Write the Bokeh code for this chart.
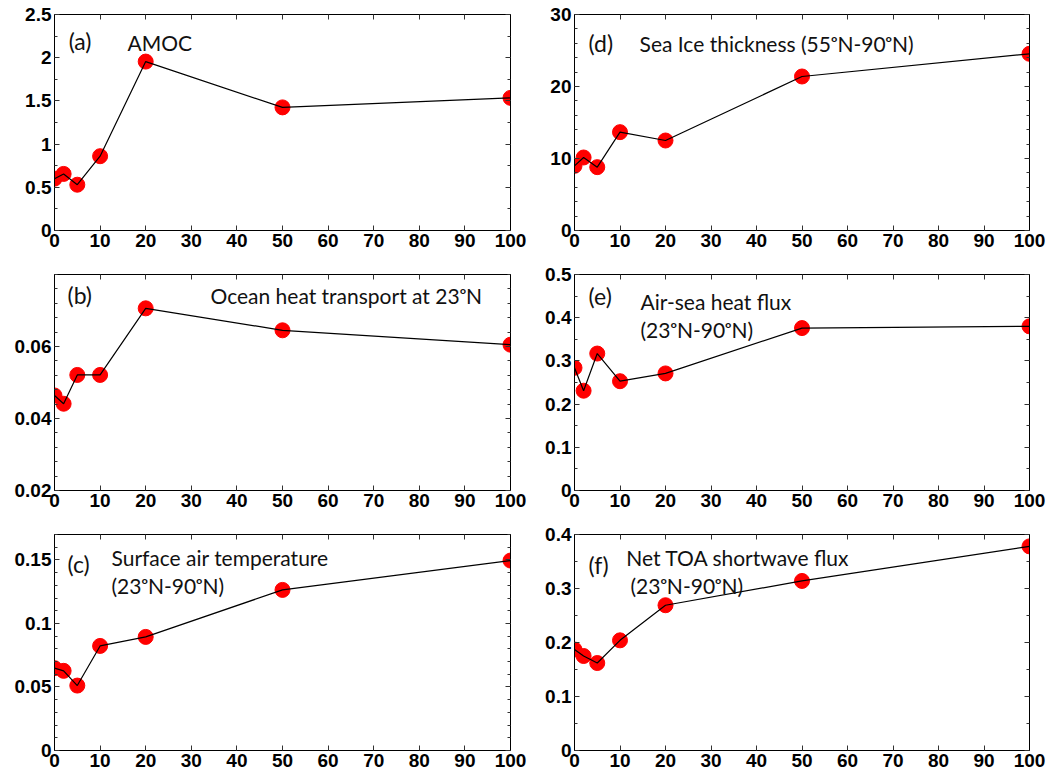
from bokeh.plotting import figure
from bokeh.layouts import gridplot
from bokeh.models import Range1d, LinearAxis, FixedTicker, Label
from bokeh.embed import file_html
from bokeh.resources import INLINE

# ---- data ----
x_vals = [0, 2, 5, 10, 20, 50, 100]
amoc = [0.60, 0.655, 0.53, 0.86, 1.955, 1.425, 1.535]
ocean_heat = [0.0464, 0.0441, 0.0521, 0.0521, 0.0706, 0.0645, 0.0605]
sat = [0.0648, 0.0627, 0.0511, 0.0823, 0.0894, 0.1264, 0.1495]
sea_ice = [8.98, 10.14, 8.8, 13.66, 12.5, 21.39, 24.54]
air_sea = [0.284, 0.231, 0.317, 0.253, 0.271, 0.376, 0.380]
toa_sw = [0.187, 0.175, 0.162, 0.204, 0.269, 0.314, 0.378]

x_ticks = [0, 10, 20, 30, 40, 50, 60, 70, 80, 90, 100]

TICK_FONT = "Liberation Sans"
TEXT_FONT = "Lato"
DEG = "\u1d52"


def make_panel(y, yr, yticks, nminor, letter, labels, bl, br, bt, bb, w, h):
    p = figure(width=w, height=h, output_backend="svg", toolbar_location=None,
               x_range=Range1d(0, 100), y_range=Range1d(*yr),
               min_border_left=bl, min_border_right=br,
               min_border_top=bt, min_border_bottom=bb,
               x_axis_type=None, y_axis_type=None)
    p.grid.visible = False
    p.outline_line_color = "black"
    p.outline_line_width = 1
    p.background_fill_color = "white"
    p.border_fill_color = "white"

    def style(ax, show):
        ax.axis_line_color = "black"
        ax.major_tick_in = 5
        ax.major_tick_out = 0
        ax.minor_tick_in = 3
        ax.minor_tick_out = 0
        ax.major_tick_line_color = "#333333"
        ax.minor_tick_line_color = "#333333"
        if show:
            ax.major_label_text_font = TICK_FONT
            ax.major_label_text_font_style = "bold"
            ax.major_label_text_font_size = "19px"
            ax.major_label_text_color = "black"
            ax.major_label_standoff = 3
        else:
            ax.major_label_text_font_size = "1px"
            ax.major_label_text_color = None
            ax.major_label_standoff = 0

    xt = FixedTicker(ticks=x_ticks, minor_ticks=[])
    ymin, ymax = yr
    step = yticks[1] - yticks[0]
    minors = []
    if nminor > 1:
        sub = step / nminor
        n = int(round((ymax - ymin) / sub))
        minors = [ymin + i * sub for i in range(n + 1)]
    yt = FixedTicker(ticks=yticks, minor_ticks=minors)

    xb = LinearAxis(ticker=xt)
    style(xb, True)
    p.add_layout(xb, "below")
    xa = LinearAxis(ticker=xt)
    style(xa, False)
    p.add_layout(xa, "above")
    yl = LinearAxis(ticker=yt)
    style(yl, True)
    p.add_layout(yl, "left")
    yr_ax = LinearAxis(ticker=yt)
    style(yr_ax, False)
    p.add_layout(yr_ax, "right")

    p.scatter(x_vals, y, size=15, fill_color="#ff0000", line_color="#ff0000")
    p.line(x_vals, y, line_color="black", line_width=1.2)

    lx, ly, lt = letter
    p.add_layout(Label(x=lx, y=ly, text=lt, text_font=TEXT_FONT,
                       text_font_size="23px", text_color="#111111",
                       text_baseline="middle", text_align="left"))
    for (tx, ty, txt) in labels:
        p.add_layout(Label(x=tx, y=ty, text=txt, text_font=TEXT_FONT,
                           text_font_size="21px", text_color="#111111",
                           text_baseline="middle", text_align="left"))
    return p


pa = make_panel(amoc, (0, 2.5), [0, 0.5, 1, 1.5, 2, 2.5], 2,
                (3.1, 2.19, "(a)"), [(16.0, 2.18, "AMOC")],
                54, 18, 14, 34, 528, 264)
pd = make_panel(sea_ice, (0, 30), [0, 10, 20, 30], 5,
                (3.1, 26.0, "(d)"), [(14.3, 26.0, f"Sea Ice thickness (55{DEG}N-90{DEG}N)")],
                46, 19, 14, 34, 520, 264)
pb = make_panel(ocean_heat, (0.02, 0.08), [0.02, 0.04, 0.06], 5,
                (2.85, 0.0742, "(b)"), [(34.2, 0.0742, f"Ocean heat transport at 23{DEG}N")],
                54, 18, 10, 34, 528, 260)
pe = make_panel(air_sea, (0, 0.5), [0, 0.1, 0.2, 0.3, 0.4, 0.5], 2,
                (3.1, 0.451, "(e)"), [(14.5, 0.437, "Air-sea heat flux"),
                                      (14.5, 0.372, f"(23{DEG}N-90{DEG}N)")],
                46, 19, 10, 34, 520, 260)
pc = make_panel(sat, (0, 0.17), [0, 0.05, 0.1, 0.15], 5,
                (2.85, 0.147, "(c)"), [(12.5, 0.152, "Surface air temperature"),
                                       (12.5, 0.130, f"(23{DEG}N-90{DEG}N)")],
                54, 18, 10, 22, 528, 248)
pf = make_panel(toa_sw, (0, 0.4), [0, 0.1, 0.2, 0.3, 0.4], 2,
                (3.1, 0.343, "(f)"), [(11.4, 0.357, "Net TOA shortwave flux"),
                                      (12.3, 0.306, f"(23{DEG}N-90{DEG}N)")],
                46, 19, 10, 22, 520, 248)

grid = gridplot([[pa, pd], [pb, pe], [pc, pf]], toolbar_location=None)

open("out.html", "w").write(file_html(grid, INLINE))
